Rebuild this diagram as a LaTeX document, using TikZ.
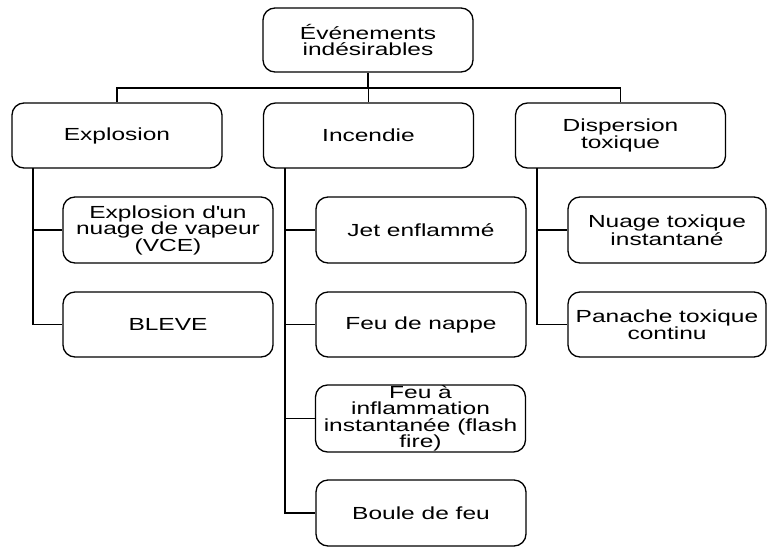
\documentclass[tikz,border=0pt]{standalone}
\usepackage{fontspec}
\setmainfont{Liberation Sans}[FakeStretch=1.4]
\begin{document}
\begin{tikzpicture}[x=1pt,y=-1pt,
  box/.style={draw=black, line width=1.3pt, rounded corners=12pt, fill=white,
    minimum width=210pt, minimum height=65pt, align=center, inner sep=0pt,
    font=\fontsize{17.5}{16.5}\selectfont},
  link/.style={draw=black, line width=1.3pt}]
\useasboundingbox (0,0) rectangle (767,546);
\clip (0,0) rectangle (767,546);
\fill[white] (0,0) rectangle (767,546);
% nodes
\node[box, minimum height=64pt] (top) at (368,40) {Événements\\indésirables};
\node[box] (expl) at (117,135.5) {Explosion};
\node[box] (inc) at (368.5,135.5) {Incendie};
\node[box] (disp) at (620.5,135.5) {Dispersion\\toxique};
\node[box, minimum height=66pt] (vce) at (168,230) {Explosion d\textquotesingle un\\nuage de vapeur\\(VCE)};
\node[box] (bleve) at (168,324.5) {BLEVE};
\node[box, minimum height=66pt] (jet) at (421,230) {Jet enflammé};
\node[box] (nappe) at (421,324.5) {Feu de nappe};
\node[box, minimum height=67pt] (flash) at (420.5,418.5) {Feu à\\inflammation\\instantanée (flash\\fire)};
\node[box, minimum height=66pt] (boule) at (421,513) {Boule de feu};
\node[box, minimum width=198pt, minimum height=66pt] (nuage) at (667,230) {Nuage toxique\\instantané};
\node[box, minimum width=198pt] (panache) at (667,324.5) {Panache toxique\\continu};
% connectors
\coordinate (bus) at (368,88);
\draw[link] (top.south) -- (bus);
\draw[link] (expl.north) |- (bus) -| (disp.north);
\draw[link] (inc.north) -- (inc.north |- bus);
\coordinate (e0) at (33,168);
\coordinate (i0) at (285,168);
\coordinate (d0) at (537,168);
\draw[link] (e0) |- (vce.west);
\draw[link] (e0) |- (bleve.west);
\draw[link] (i0) |- (jet.west);
\draw[link] (i0) |- (nappe.west);
\draw[link] (i0) |- (flash.west);
\draw[link] (i0) |- (boule.west);
\draw[link] (d0) |- (nuage.west);
\draw[link] (d0) |- (panache.west);
\end{tikzpicture}
\end{document}
